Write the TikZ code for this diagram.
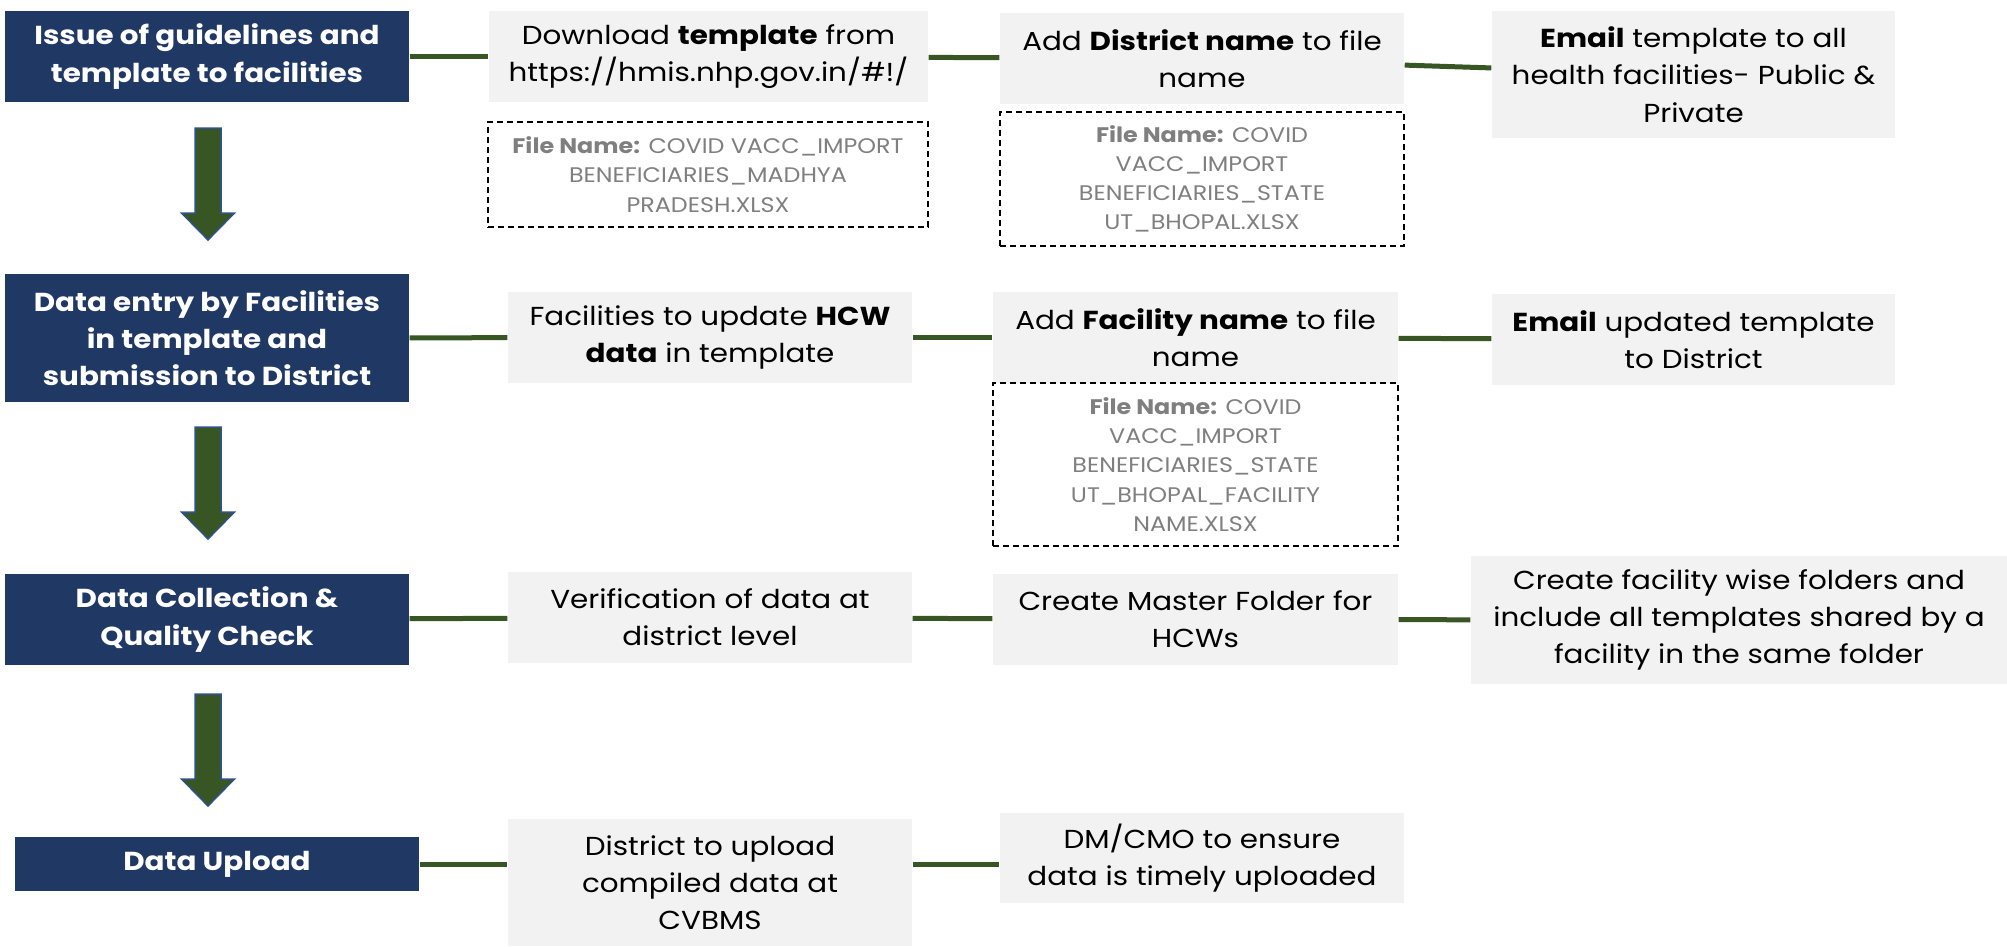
\documentclass[tikz,border=0pt]{standalone}
\usepackage{fontspec}
\setmainfont{Poppins}[FakeStretch=1.13]
\usepackage{xcolor}
\usepackage{tikz}
\usetikzlibrary{positioning,calc}

\definecolor{stageblue}{HTML}{203864}
\definecolor{taskgray}{HTML}{F2F2F2}
\definecolor{linkgreen}{HTML}{375623}
\definecolor{arrowblue}{HTML}{2F528F}
\definecolor{filegray}{HTML}{7F7F7F}

\newcommand{\stepfont}{\fontsize{7.4}{10.6}\selectfont}
\newcommand{\filefont}{\fontsize{6.0}{8.3}\selectfont}

\tikzset{
    stage/.style={fill=stageblue, text=white, font=\stepfont\bfseries, align=center, minimum width=4.04cm, inner sep=0pt},
    task/.style={fill=taskgray, font=\stepfont, align=center, inner sep=0pt},
    filebox/.style={draw=black, dash pattern=on 0.06cm off 0.04cm, line width=0.015cm, text=filegray, font=\filefont, align=center, inner sep=0pt},
    link/.style={draw=linkgreen, line width=0.05cm},
    bigarrow/.style={fill=linkgreen, draw=arrowblue, line width=0.015cm}
}

\begin{document}
\begin{tikzpicture}[y=-1cm]
    \useasboundingbox (0,0) rectangle (20.07,9.46);

    % Stages
    \node[stage, minimum height=0.91cm] (b1) at (2.07,0.565) {Issue of guidelines and\\template to facilities};
    \node[stage, minimum height=1.28cm] (b2) at (2.07,3.38) {Data entry by Facilities\\in template and\\submission to District};
    \node[stage, minimum height=0.91cm] (b3) at (2.07,6.195) {Data Collection \&\\Quality Check};
    \node[stage, minimum height=0.54cm] (b4) at (2.17,8.64) {Data Upload};

    % Row 1
    \node[task, minimum width=4.39cm, minimum height=0.91cm] (g11) at (7.085,0.565) {Download \textbf{template} from\\https://hmis.nhp.gov.in/\#!/};
    \node[filebox, minimum width=4.40cm, minimum height=1.05cm] (d11) at (7.08,1.745) {\textbf{File Name:} COVID VACC\_IMPORT\\BENEFICIARIES\_MADHYA\\PRADESH.XLSX};
    \node[task, minimum width=4.04cm, minimum height=0.91cm] (g12) at (12.02,0.585) {Add \textbf{District name} to file\\name};
    \node[filebox, minimum width=4.04cm, minimum height=1.34cm] (d12) at (12.02,1.79) {\textbf{File Name:} COVID\\VACC\_IMPORT\\BENEFICIARIES\_STATE\\UT\_BHOPAL.XLSX};
    \node[task, minimum width=4.03cm, minimum height=1.27cm] (g13) at (16.935,0.745) {\textbf{Email} template to all\\health facilities- Public \&\\Private};

    % Row 2
    \node[task, minimum width=4.04cm, minimum height=0.91cm] (g21) at (7.10,3.375) {Facilities to update \textbf{HCW}\\\textbf{data} in template};
    \node[task, minimum width=4.05cm, minimum height=0.91cm] (g22) at (11.955,3.375) {Add \textbf{Facility name} to file\\name};
    \node[filebox, minimum width=4.05cm, minimum height=1.63cm] (d22) at (11.955,4.645) {\textbf{File Name:} COVID\\VACC\_IMPORT\\BENEFICIARIES\_STATE\\UT\_BHOPAL\_FACILITY\\NAME.XLSX};
    \node[task, minimum width=4.03cm, minimum height=0.91cm] (g23) at (16.935,3.395) {\textbf{Email} updated template\\to District};

    % Row 3
    \node[task, minimum width=4.04cm, minimum height=0.91cm] (g31) at (7.10,6.175) {Verification of data at\\district level};
    \node[task, minimum width=4.05cm, minimum height=0.91cm] (g32) at (11.955,6.195) {Create Master Folder for\\HCWs};
    \node[task, minimum width=5.36cm, minimum height=1.28cm] (g33) at (17.39,6.20) {Create facility wise folders and\\include all templates shared by a\\facility in the same folder};

    % Row 4
    \node[task, minimum width=4.04cm, minimum height=1.27cm] (g41) at (7.10,8.825) {District to upload\\compiled data at\\CVBMS};
    \node[task, minimum width=4.04cm, minimum height=0.90cm] (g42) at (12.02,8.58) {DM/CMO to ensure\\data is timely uploaded};

    % Links
    \foreach \a/\b in {b1/g11, g11/g12, g12/g13, b2/g21, g21/g22, g22/g23, b3/g31, g31/g32, g32/g33}
        \draw[link] (\a) -- (\b);
    \draw[link] (b4.east) -- (b4.east -| g41.west);
    \draw[link] (b4.east -| g41.east) -- (b4.east -| g42.west);

    % Down arrows
    \foreach \t in {1.28,4.27,6.94}
        \draw[bigarrow] (1.95,\t) -- (2.21,\t) -- (2.21,\t+0.85) -- (2.345,\t+0.85) -- (2.08,\t+1.12) -- (1.815,\t+0.85) -- (1.95,\t+0.85) -- cycle;
\end{tikzpicture}
\end{document}
